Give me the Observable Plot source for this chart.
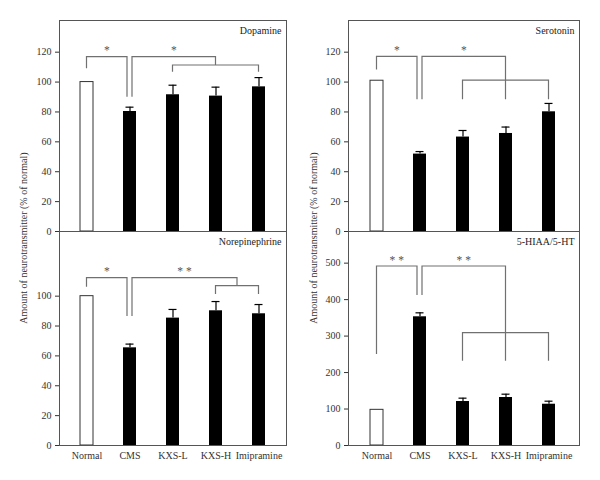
<!DOCTYPE html>
<html>
<head>
<meta charset="utf-8">
<script src="https://cdn.jsdelivr.net/npm/d3@7"></script>
<script src="https://cdn.jsdelivr.net/npm/@observablehq/plot@0.6"></script>
<style>
  html, body { margin: 0; padding: 0; background: white; }
  #fig { position: relative; width: 600px; height: 480px; background: white; font-family: 'Liberation Serif', 'DejaVu Serif', serif; }
  #fig > .panel { position: absolute; }
</style>
</head>
<body>
<div id="fig"></div>
<script>
// ---- data ----
const groups = ["Normal", "CMS", "KXS-L", "KXS-H", "Imipramine"];

const dopamine = [100, 80.3, 91.5, 90.6, 96.8];
const dopamineSem = [0, 2.9, 6.4, 6.0, 6.2];

const serotonin = [100.9, 51.8, 63.2, 65.6, 80.1];
const serotoninSem = [0, 1.7, 4.4, 4.3, 5.6];

const norepinephrine = [100, 65.4, 85.3, 90.2, 88.2];
const norepinephrineSem = [0, 2.5, 5.8, 6.2, 6.2];

const hiaaRatio = [97.8, 352.9, 120.6, 131.6, 113.2];
const hiaaRatioSem = [0, 10.9, 9.2, 9.1, 8.3];

const ticksPercent = [0, 20, 40, 60, 80, 100, 120];
const ticksPercentLow = [0, 20, 40, 60, 80, 100];
const ticksRatio = [0, 100, 200, 300, 400, 500];

const yLabel = "Amount of neurotransmitter (% of normal)";

// significance brackets (values in data units)
const dopamineBrackets = [
  {from: ["Normal"], to: ["CMS"], top: 116.7, fromEnd: 108.9, toEnd: 89.9, label: "*"},
  {from: ["CMS"], to: ["KXS-L", "Imipramine"], top: 116.7, fromEnd: 89.9, toEnd: 111.1, label: "*"},
  {from: ["KXS-L"], to: ["Imipramine"], top: 111.1, fromEnd: 106.6, toEnd: 106.6, label: ""}
];
const serotoninBrackets = [
  {from: ["Normal"], to: ["CMS"], top: 116.9, fromEnd: 108.0, toEnd: 88.2, label: "*"},
  {from: ["CMS"], to: ["KXS-L", "Imipramine"], top: 116.9, fromEnd: 88.2, toEnd: 88.2, label: "*"},
  {from: ["KXS-L"], to: ["Imipramine"], top: 100.9, fromEnd: 88.2, toEnd: 88.2, label: ""}
];
const norepinephrineBrackets = [
  {from: ["Normal"], to: ["CMS"], top: 112.1, fromEnd: 106.0, toEnd: 86.4, label: "*"},
  {from: ["CMS"], to: ["KXS-H", "Imipramine"], top: 112.1, fromEnd: 86.4, toEnd: 106.7, label: "**"},
  {from: ["KXS-H"], to: ["Imipramine"], top: 106.7, fromEnd: 101.1, toEnd: 101.1, label: ""}
];
const hiaaBrackets = [
  {from: ["Normal"], to: ["CMS"], top: 490.8, fromEnd: 249.5, toEnd: 411.3, label: "**"},
  {from: ["CMS"], to: ["KXS-L", "Imipramine"], top: 490.8, fromEnd: 411.3, toEnd: 231.1, label: "**"},
  {from: ["KXS-L"], to: ["Imipramine"], top: 307.9, fromEnd: 231.1, toEnd: 231.1, label: ""}
];

// ---- drawing ----
const FONT = "'Liberation Serif', 'DejaVu Serif', serif";

function bracketMark(brackets) {
  return (index, scales) => {
    const x = scales.x, y = scales.y;
    const bw = x.bandwidth ? x.bandwidth() : 0;
    const cx = g => x(g) + bw / 2;
    const gx = arr => (cx(arr[0]) + cx(arr[arr.length - 1])) / 2;
    const g = d3.create("svg:g");
    for (const b of brackets) {
      let x1 = gx(b.from), x2 = gx(b.to);
      if (b.from.length === 1 && brackets.some(o => o !== b && o.to.length === 1 && o.to[0] === b.from[0])) x1 += 2.5;
      if (b.to.length === 1 && brackets.some(o => o !== b && o.from.length === 1 && o.from[0] === b.to[0])) x2 -= 2.5;
      const yt = y(b.top);
      g.append("path")
        .attr("fill", "none")
        .attr("stroke", "#707070")
        .attr("stroke-width", 1.2)
        .attr("d", `M${x1},${y(b.fromEnd)}V${yt}H${x2}V${y(b.toEnd)}`);
      if (b.label) {
        g.append("text")
          .attr("x", (x1 + x2) / 2)
          .attr("y", yt - 2.5)
          .attr("text-anchor", "middle")
          .attr("fill", "#555")
          .attr("font-size", 11.5)
          .attr("font-family", FONT)
          .text(b.label.split("").join(" "));
      }
    }
    return g.node();
  };
}

function panel({values, sem, brackets, title, domain, ticks, left, top, width, height, margins, xRange, showX}) {
  const data = groups.map((group, i) => ({group, value: values[i], sem: sem[i]}));
  const withErr = data.filter(d => d.sem > 0);
  const chart = Plot.plot({
    width, height,
    marginLeft: margins[0], marginRight: margins[1], marginTop: margins[2], marginBottom: margins[3],
    style: {fontFamily: FONT, fontSize: "10px", color: "#333", background: "transparent", overflow: "visible"},
    x: {type: "band", domain: groups, range: xRange, paddingInner: 0.7, paddingOuter: 0.35, axis: null},
    y: {domain, ticks, tickSize: 4, tickPadding: 4, label: null},
    marks: [
      showX ? Plot.axisX({tickSize: 0, tickPadding: 6, fontSize: 10, label: null}) : null,
      Plot.barY(data.filter(d => d.group === "Normal"), {x: "group", y: "value", fill: "white", stroke: "#333", strokeWidth: 1}),
      Plot.barY(data.filter(d => d.group !== "Normal"), {x: "group", y: "value", fill: "black"}),
      Plot.ruleX(withErr, {x: "group", y1: "value", y2: d => d.value + d.sem, stroke: "black", strokeWidth: 1.2}),
      Plot.tickY(withErr, {x: "group", y: d => d.value + d.sem, stroke: "black", strokeWidth: 1.2, insetLeft: 2.5, insetRight: 2.5}),
      bracketMark(brackets),
      Plot.frame({stroke: "#555", strokeWidth: 1}),
      Plot.text([title], {frameAnchor: "top-right", dx: -5, dy: 6, fill: "#222", fontSize: 10})
    ]
  });
  chart.classList.add("panel");
  chart.style.left = left + "px";
  chart.style.top = top + "px";
  document.getElementById("fig").appendChild(chart);
}

panel({values: dopamine, sem: dopamineSem, brackets: dopamineBrackets, title: "Dopamine",
  domain: [0, 141.2], ticks: ticksPercent, left: 0, top: 0, width: 300, height: 232,
  margins: [59, 14, 20, 1], xRange: [63.25, 280.75], showX: false});

panel({values: serotonin, sem: serotoninSem, brackets: serotoninBrackets, title: "Serotonin",
  domain: [0, 141.2], ticks: ticksPercent, left: 300, top: 0, width: 300, height: 232,
  margins: [48, 21, 20, 1], xRange: [54.7, 270.6], showX: false});

panel({values: norepinephrine, sem: norepinephrineSem, brackets: norepinephrineBrackets, title: "Norepinephrine",
  domain: [0, 143.3], ticks: ticksPercentLow, left: 0, top: 231, width: 300, height: 249,
  margins: [59, 14, 0, 35], xRange: [63.25, 280.75], showX: true});

panel({values: hiaaRatio, sem: hiaaRatioSem, brackets: hiaaBrackets, title: "5-HIAA/5-HT",
  domain: [0, 586.8], ticks: ticksRatio, left: 300, top: 231, width: 300, height: 249,
  margins: [48, 21, 0, 35], xRange: [54.7, 270.6], showX: true});

// shared y-axis labels
const overlay = d3.create("svg")
  .attr("class", "panel")
  .attr("width", 600).attr("height", 480)
  .style("left", "0px").style("top", "0px")
  .style("pointer-events", "none");
for (const lx of [25, 315]) {
  overlay.append("text")
    .attr("transform", `translate(${lx},238) rotate(-90)`)
    .attr("text-anchor", "middle")
    .attr("dominant-baseline", "middle")
    .attr("font-family", FONT)
    .attr("font-size", 10)
    .attr("fill", "#333")
    .text(yLabel);
}
document.getElementById("fig").appendChild(overlay.node());
</script>
</body>
</html>
